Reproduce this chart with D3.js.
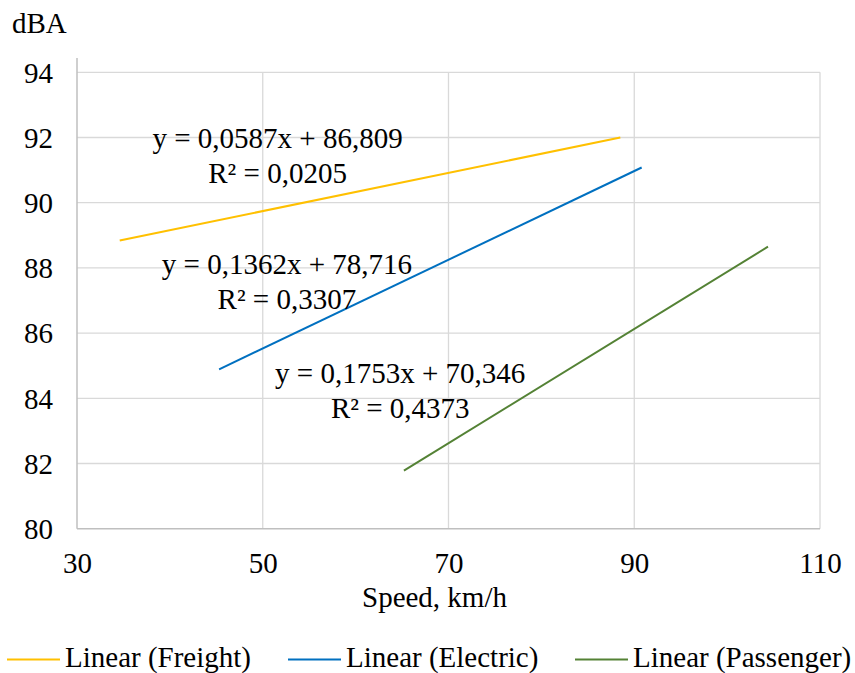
<!DOCTYPE html>
<html>
<head>
<meta charset="utf-8">
<script src="https://cdn.jsdelivr.net/npm/d3@7"></script>
<style>
  text { font-family: "Liberation Serif", "Times New Roman", Times, serif; }
</style>
</head>
<body style="margin:0">
<svg id="chart" width="855" height="673"></svg>
<script>
// ---- Data ----
const seriesNames = ["Freight", "Electric", "Passenger"];
const seriesColors = ["#FFC000", "#0070C0", "#548235"];
// trendline endpoints: speed (km/h) and dBA
const freightX = [34.6, 88.5];
const freightY = [88.84, 92.0];
const electricX = [45.3, 90.8];
const electricY = [84.89, 91.08];
const passengerX = [65.2, 104.4];
const passengerY = [81.78, 88.65];
// equation labels
const equationLines = [
  ["y = 0,0587x + 86,809", "R² = 0,0205"],
  ["y = 0,1362x + 78,716", "R² = 0,3307"],
  ["y = 0,1753x + 70,346", "R² = 0,4373"]
];
// label anchor (data coords of first line baseline centre)
const labelX = [51.6, 52.6, 64.8];
const labelY = [91.67, 87.8, 84.47];
const xTicks = [30, 50, 70, 90, 110];
const yTicks = [80, 82, 84, 86, 88, 90, 92, 94];

const xs = [freightX, electricX, passengerX];
const ys = [freightY, electricY, passengerY];

// ---- Layout ----
const svg = d3.select("#chart");
const pLeft = 77, pRight = 820, pTop = 72.3, pBottom = 528.7;
const FS = 29;
const FONT = '"Liberation Serif", "Times New Roman", Times, serif';

const x = d3.scaleLinear().domain([30, 110]).range([pLeft, pRight]);
const y = d3.scaleLinear().domain([80, 94]).range([pBottom, pTop]);

// gridlines
svg.append("g").selectAll("line").data(yTicks.filter(d => d !== 80)).join("line")
  .attr("x1", pLeft).attr("x2", pRight)
  .attr("y1", d => y(d)).attr("y2", d => y(d))
  .attr("stroke", "#d9d9d9").attr("stroke-width", 1.3);
svg.append("g").selectAll("line").data(xTicks.filter(d => d !== 30)).join("line")
  .attr("x1", d => x(d)).attr("x2", d => x(d))
  .attr("y1", pTop).attr("y2", pBottom)
  .attr("stroke", "#d9d9d9").attr("stroke-width", 1.3);

// axes lines
svg.append("line").attr("x1", pLeft).attr("x2", pLeft).attr("y1", 58).attr("y2", pBottom)
  .attr("stroke", "#bfbfbf").attr("stroke-width", 1.5);
svg.append("line").attr("x1", pLeft).attr("x2", pRight).attr("y1", pBottom).attr("y2", pBottom)
  .attr("stroke", "#bfbfbf").attr("stroke-width", 1.5);

// tick labels via axes
const xAxis = d3.axisBottom(x).tickValues(xTicks).tickSize(0).tickPadding(0).tickFormat(d3.format("d"));
const gx = svg.append("g").attr("transform", `translate(0,${pBottom})`).call(xAxis);
gx.attr("font-family", null).attr("font-size", null);
gx.select(".domain").remove();
gx.selectAll("text").attr("font-size", FS).style("font-family", FONT)
  .attr("fill", "#000").attr("dy", null).attr("y", 44.5);

const yAxis = d3.axisLeft(y).tickValues(yTicks).tickSize(0).tickPadding(0).tickFormat(d3.format("d"));
const gy = svg.append("g").attr("transform", `translate(${pLeft},0)`).call(yAxis);
gy.attr("font-family", null).attr("font-size", null);
gy.select(".domain").remove();
gy.selectAll("text").attr("font-size", FS).style("font-family", FONT)
  .attr("fill", "#000").attr("x", -24).attr("dy", "0.34em");

// axis titles
svg.append("text").attr("x", 12).attr("y", 33)
  .attr("font-size", FS).style("font-family", FONT).text("dBA");
svg.append("text").attr("x", 434.5).attr("y", 606.5).attr("text-anchor", "middle")
  .attr("font-size", FS).style("font-family", FONT).text("Speed, km/h");

// trendlines
const line = d3.line().x(d => x(d[0])).y(d => y(d[1]));
seriesNames.forEach((n, i) => {
  const pts = xs[i].map((v, k) => [v, ys[i][k]]);
  svg.append("path").attr("d", line(pts)).attr("fill", "none")
    .attr("stroke", seriesColors[i]).attr("stroke-width", 2);
});

// equation labels (one text per line)
equationLines.forEach((lines, i) => {
  lines.forEach((s, k) => {
    svg.append("text").attr("text-anchor", "middle")
      .attr("font-size", FS).style("font-family", FONT)
      .attr("x", x(labelX[i])).attr("y", y(labelY[i]) + k * 35).text(s);
  });
});

// legend
const legX = [7, 288, 575];
seriesNames.forEach((n, i) => {
  svg.append("line").attr("x1", legX[i]).attr("x2", legX[i] + 53)
    .attr("y1", 659.5).attr("y2", 659.5).attr("stroke", seriesColors[i]).attr("stroke-width", 2);
  svg.append("text").attr("x", legX[i] + 58).attr("y", 667)
    .attr("font-size", FS).style("font-family", FONT).text(`Linear (${n})`);
});
</script>
</body>
</html>
